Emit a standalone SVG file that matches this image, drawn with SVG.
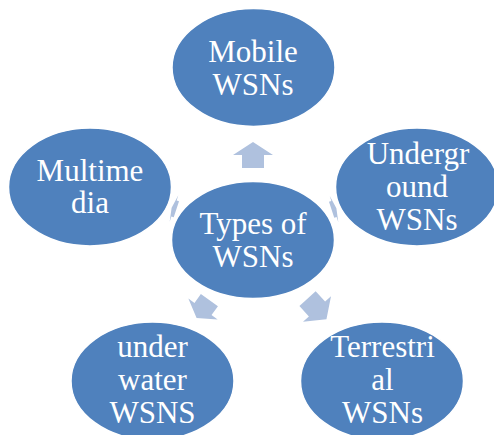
<svg xmlns="http://www.w3.org/2000/svg" width="494" height="435" viewBox="0 0 494 435">
<style>
.node{fill:#4F81BD;stroke:#FFFFFF;stroke-width:1.5}
.lbl{font-family:"Liberation Serif","Times New Roman",serif;font-size:31px;fill:#FFFFFF;text-anchor:middle}
.arr{fill:#AFC1DE;stroke:none}
</style>
<rect x="0" y="0" width="494" height="435" fill="#FFFFFF"/>
<g id="node-mobile">
<ellipse class="node" cx="253.5" cy="67.5" rx="81.5" ry="59"/>
<text class="lbl" x="253" y="62">Mobile</text>
<text class="lbl" x="253" y="95">WSNs</text>
</g>
<g id="node-center">
<ellipse class="node" cx="253" cy="240" rx="81.5" ry="58.5"/>
<text class="lbl" x="253" y="234">Types of</text>
<text class="lbl" x="253" y="267">WSNs</text>
</g>
<g id="node-multimedia">
<ellipse class="node" cx="90" cy="187" rx="81.5" ry="59"/>
<text class="lbl" x="90" y="181">Multime</text>
<text class="lbl" x="90" y="213">dia</text>
</g>
<g id="node-underground">
<ellipse class="node" cx="417" cy="187" rx="81.5" ry="59"/>
<text class="lbl" x="418" y="164">Undergr</text>
<text class="lbl" x="417" y="197">ound</text>
<text class="lbl" x="417" y="230">WSNs</text>
</g>
<g id="node-underwater">
<ellipse class="node" cx="152.5" cy="381" rx="81.5" ry="59"/>
<text class="lbl" x="152.5" y="357">under</text>
<text class="lbl" x="152.5" y="390">water</text>
<text class="lbl" x="152.5" y="423">WSNS</text>
</g>
<g id="node-terrestrial">
<ellipse class="node" cx="382" cy="381" rx="81.5" ry="59"/>
<text class="lbl" x="382.5" y="357">Terrestri</text>
<text class="lbl" x="382.5" y="390">al</text>
<text class="lbl" x="382.5" y="423">WSNs</text>
</g>
<g id="connectors">
<polygon class="arr" transform="translate(253,155) rotate(-90)" points="-13,-11 0,-11 0,-20 13,0 0,20 0,11 -13,11"/>
<polygon class="arr" transform="translate(317,309) rotate(47.5)" points="-14,-11 0,-11 0,-19 14,0 0,19 0,11 -14,11"/>
<polygon class="arr" transform="translate(203,309) rotate(125.6)" points="-11,-10.5 0,-10.5 0,-18 11,0 0,18 0,10.5 -11,10.5"/>
<polygon class="arr" transform="translate(174,208.5) rotate(198)" points="-2.5,-8.5 0,-8.5 0,-14 2.5,0 0,14 0,8.5 -2.5,8.5"/>
<polygon class="arr" transform="translate(334,209) rotate(-18)" points="-2.5,-8.5 0,-8.5 0,-14 2.5,0 0,14 0,8.5 -2.5,8.5"/>
</g>
</svg>
